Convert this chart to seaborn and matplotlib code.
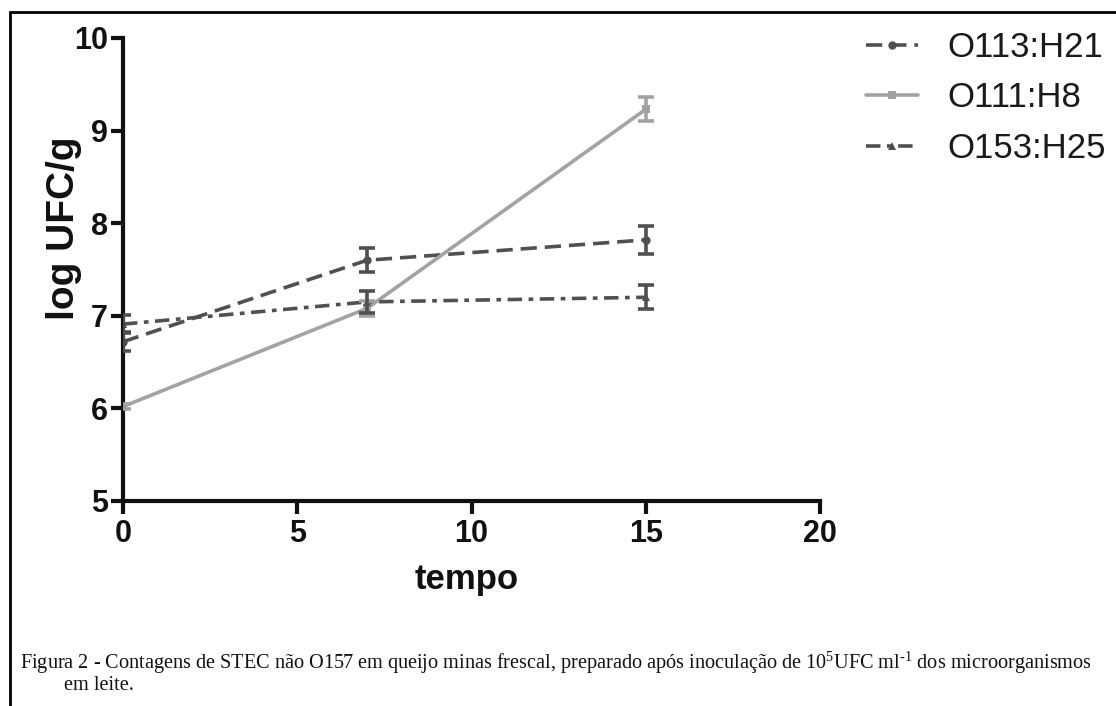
import numpy as np
import pandas as pd
import matplotlib
matplotlib.use("Agg")
import matplotlib.pyplot as plt
from matplotlib.lines import Line2D
import seaborn as sns

# ---- data ----
tempo = [0, 7, 15]
series = ["O113:H21", "O111:H8", "O153:H25"]
o113_mean = [6.72, 7.60, 7.82]
o113_err = [0.10, 0.13, 0.15]
o111_mean = [6.02, 7.08, 9.23]
o111_err = [0.03, 0.08, 0.13]
o153_mean = [6.91, 7.15, 7.20]
o153_err = [0.10, 0.12, 0.13]
x_ticks = [0, 5, 10, 15, 20]
y_ticks = [5, 6, 7, 8, 9, 10]

means = [o113_mean, o111_mean, o153_mean]
errs = [o113_err, o111_err, o153_err]

df = pd.DataFrame({
    "tempo": tempo * 3,
    "log UFC/g": o113_mean + o111_mean + o153_mean,
    "serie": [s for s in series for _ in tempo],
})

sns.set_theme(style="ticks")
plt.rcParams["font.family"] = ["Liberation Sans", "DejaVu Sans"]
plt.rcParams["mathtext.fontset"] = "custom"
plt.rcParams["mathtext.rm"] = "Liberation Serif"
plt.rcParams["mathtext.it"] = "Liberation Serif"

colors = {"O113:H21": "#505050", "O111:H8": "#a3a3a3", "O153:H25": "#505050"}
dashes = {"O113:H21": (4.5, 2.2), "O111:H8": "", "O153:H25": (4, 1.8, 1.3, 1.8)}
markers = {"O113:H21": "o", "O111:H8": "s", "O153:H25": "^"}

fig = plt.figure(figsize=(11.16, 7.06), dpi=100)
ax = fig.add_axes([123 / 1116, 1 - 501 / 706, (820 - 123) / 1116, (501 - 38) / 706])

sns.lineplot(data=df, x="tempo", y="log UFC/g", hue="serie", style="serie",
             palette=colors, dashes=dashes, markers=markers, markersize=6,
             markeredgewidth=0, linewidth=2.6, ax=ax, legend=False, sort=False)

for s, m, e in zip(series, means, errs):
    ax.errorbar(tempo, m, yerr=e, fmt="none", ecolor=colors[s], elinewidth=2.6,
                capsize=6, capthick=2.6, zorder=3)

ax.set_xlim(0, 20)
ax.set_ylim(5, 10)
ax.set_xticks(x_ticks)
ax.set_yticks(y_ticks)
ax.set_xticklabels([str(v) for v in x_ticks], fontsize=22, fontweight="bold", color="#111111")
ax.set_yticklabels([str(v) for v in y_ticks], fontsize=22, fontweight="bold", color="#111111")
ax.set_xlabel("tempo", fontsize=25, fontweight="bold", color="#111111")
ax.set_ylabel("log UFC/g", fontsize=28, fontweight="bold", color="#111111")
ax.xaxis.set_label_coords((467 - 123) / 697, -(563 - 501) / 463)
ax.yaxis.set_label_coords((82 - 123) / 697, (501 - 228) / 463)
for side in ["top", "right"]:
    ax.spines[side].set_visible(False)
for side in ["left", "bottom"]:
    ax.spines[side].set_linewidth(3)
    ax.spines[side].set_color("#111111")
ax.tick_params(axis="both", length=9, width=3, color="#111111", pad=4)
ax.tick_params(axis="y", pad=2)
ax.set_facecolor("white")

handles = [Line2D([0], [0], color=colors[s], linewidth=2.6,
                  linestyle=(0, dashes[s]) if dashes[s] else "-",
                  marker=markers[s], markersize=6, markeredgewidth=0)
           for s in series]
leg = fig.legend(handles, series, loc="upper left",
                 bbox_to_anchor=(866 / 1116, 1 - 31 / 706),
                 frameon=False, fontsize=25, handlelength=1.5, handletextpad=0.84,
                 labelspacing=0.5, borderpad=0, borderaxespad=0)
for t in leg.get_texts():
    t.set_color("#1a1a1a")

# figure border (top and left)
fig.add_artist(Line2D([10 / 1116, 10 / 1116], [0, 1 - 12 / 706], transform=fig.transFigure,
                      color="black", linewidth=2))
fig.add_artist(Line2D([10 / 1116, 1], [1 - 12 / 706, 1 - 12 / 706], transform=fig.transFigure,
                      color="black", linewidth=2))

fig.text(20 / 1116, 1 - 663 / 706,
         "Figura 2 - Contagens de STEC não O157 em queijo minas frescal, preparado após inoculação de "
         r"10$^{\mathrm{5}}$UFC ml$^{\mathrm{\text{-}1}}$ dos microorganismos",
         family="Liberation Serif", fontsize=14.6, va="center", ha="left", color="#111111")
fig.text(64 / 1116, 1 - 686 / 706, "em leite.", family="Liberation Serif", fontsize=14.6,
         va="center", ha="left", color="#111111")

fig.savefig("out.png", dpi=100, facecolor="white")
